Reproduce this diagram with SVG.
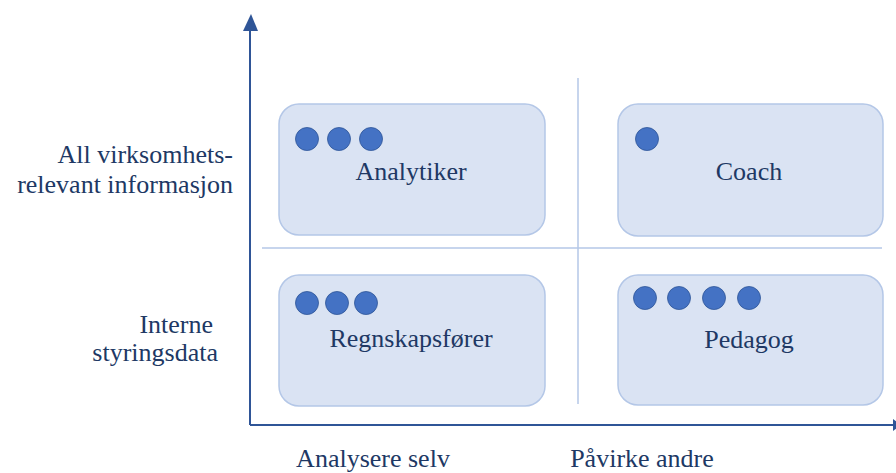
<svg xmlns="http://www.w3.org/2000/svg" width="896" height="473" viewBox="0 0 896 473">
<style>
.box{fill:#dae3f3;stroke:#b4c7e7;stroke-width:1.5}
.dot{fill:#4472c4;stroke:#2f5597;stroke-width:0.8}
text{font-family:'Liberation Serif','Times New Roman',Times,serif;font-size:26px;fill:#203864}
.axis{stroke:#2f5597;stroke-width:2;fill:none}
.div{stroke:#b4c7e7;stroke-width:1.5;fill:none}
</style>
<g id="connectors">
<line class="div" x1="578" y1="78" x2="578" y2="404"/>
<line class="div" x1="262" y1="248" x2="882" y2="248"/>
<path class="axis" d="M250,425 L250,18"/>
<path d="M243,31 L251,14 L258,31 z" fill="#2f5597"/>
<path class="axis" d="M250,425 L893,425"/>
<path d="M893,419 L901,425 L893,431 z" fill="#2f5597"/>
</g>
<g id="analytiker">
<rect class="box" x="279" y="104" width="266" height="131" rx="20"/>
<circle class="dot" cx="307" cy="139" r="11.5"/>
<circle class="dot" cx="339" cy="139" r="11.5"/>
<circle class="dot" cx="371" cy="139" r="11.5"/>
<text x="411" y="180" text-anchor="middle">Analytiker</text>
</g>
<g id="coach">
<rect class="box" x="618" y="104" width="265" height="132" rx="20"/>
<circle class="dot" cx="647" cy="139" r="11.5"/>
<text x="749" y="180" text-anchor="middle">Coach</text>
</g>
<g id="regnskapsforer">
<rect class="box" x="279" y="275" width="266" height="131" rx="20"/>
<circle class="dot" cx="307" cy="303" r="11.5"/>
<circle class="dot" cx="337" cy="303" r="11.5"/>
<circle class="dot" cx="366" cy="303" r="11.5"/>
<text x="411" y="347" text-anchor="middle">Regnskapsfører</text>
</g>
<g id="pedagog">
<rect class="box" x="618" y="275" width="265" height="130" rx="20"/>
<circle class="dot" cx="645" cy="298" r="11.5"/>
<circle class="dot" cx="679" cy="298" r="11.5"/>
<circle class="dot" cx="714" cy="298" r="11.5"/>
<circle class="dot" cx="749" cy="298" r="11.5"/>
<text x="749" y="348" text-anchor="middle">Pedagog</text>
</g>
<g id="labels">
<text x="233" y="163" text-anchor="end">All virksomhets-</text>
<text x="233" y="193" text-anchor="end">relevant informasjon</text>
<text x="213" y="333" text-anchor="end">Interne</text>
<text x="218" y="361" text-anchor="end">styringsdata</text>
<text x="373" y="467" text-anchor="middle">Analysere selv</text>
<text x="642" y="467" text-anchor="middle">Påvirke andre</text>
</g>
</svg>
